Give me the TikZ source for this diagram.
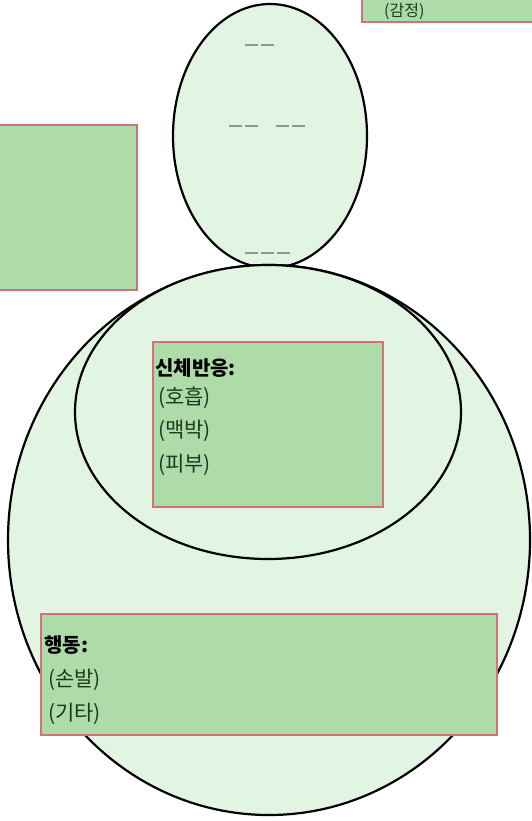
\documentclass[tikz,border=0pt]{standalone}
\usepackage{fontspec}
\newfontfamily\kr{Noto Sans CJK KR}
\usetikzlibrary{shapes.geometric}
\definecolor{shapefill}{HTML}{E2F4E2}
\definecolor{boxfill}{HTML}{ADDCA9}
\definecolor{boxline}{HTML}{D4707C}
\definecolor{itemtext}{HTML}{1E3A1E}
\definecolor{marks}{HTML}{8E9A8E}
\tikzset{
  oval/.style={ellipse, draw=black, line width=2.2pt, fill=shapefill, inner sep=0pt},
  greenbox/.style={rectangle, draw=boxline, line width=1.6pt, fill=boxfill, inner sep=0pt},
  titletext/.style={font=\kr\bfseries\fontsize{20}{22}\selectfont, text=black, anchor=west, inner sep=0pt},
  itemtxt/.style={font=\kr\fontsize{21}{23}\selectfont, text=itemtext, anchor=west, inner sep=0pt},
  facemark/.style={draw=marks, line width=1.6pt, dash pattern=on 13pt off 3pt}
}
\begin{document}
\begin{tikzpicture}[x=1pt,y=-1pt]
\useasboundingbox (0,0) rectangle (532,821);
\begin{scope}
\clip (0,0) rectangle (532,821);
% left box
\node[greenbox, minimum width=150pt, minimum height=165pt] (leftbox) at (62,207.5) {};
% top right box
\node[greenbox, minimum width=180pt, minimum height=62pt] (topbox) at (452,-9) {};
\node[itemtxt, font=\kr\fontsize{16}{18}\selectfont] (emotion) at (384,11) {(감정)};
% head
\node[oval, minimum width=194pt, minimum height=264pt] (head) at (270,136) {};
\coordinate (m1a) at (245,45); \coordinate (m1b) at (274,45);
\coordinate (m2a) at (229,126); \coordinate (m2b) at (258,126);
\coordinate (m3a) at (276,126); \coordinate (m3b) at (306,126);
\coordinate (m4a) at (245,253); \coordinate (m4b) at (293,253);
\draw[facemark] (m1a) -- (m1b);
\draw[facemark] (m2a) -- (m2b);
\draw[facemark] (m3a) -- (m3b);
\draw[facemark] (m4a) -- (m4b);
% body
\node[oval, minimum width=522pt, minimum height=550pt] (body) at (269,540) {};
\node[oval, minimum width=386pt, minimum height=294pt] (inner) at (268,412) {};
% body reaction box
\node[greenbox, minimum width=230pt, minimum height=165pt] (reactbox) at (268,424.5) {};
\node[titletext] (reacttitle) at (155,368) {신체반응:};
\node[itemtxt] (breath) at (158,398) {(호흡)};
\node[itemtxt] (pulse) at (158,431) {(맥박)};
\node[itemtxt] (skin) at (158,465) {(피부)};
% behaviour box
\node[greenbox, minimum width=456pt, minimum height=121pt] (actbox) at (269,674.5) {};
\node[titletext] (acttitle) at (44,645) {행동:};
\node[itemtxt] (limbs) at (48,680) {(손발)};
\node[itemtxt] (other) at (48,714) {(기타)};
\end{scope}
\end{tikzpicture}
\end{document}
